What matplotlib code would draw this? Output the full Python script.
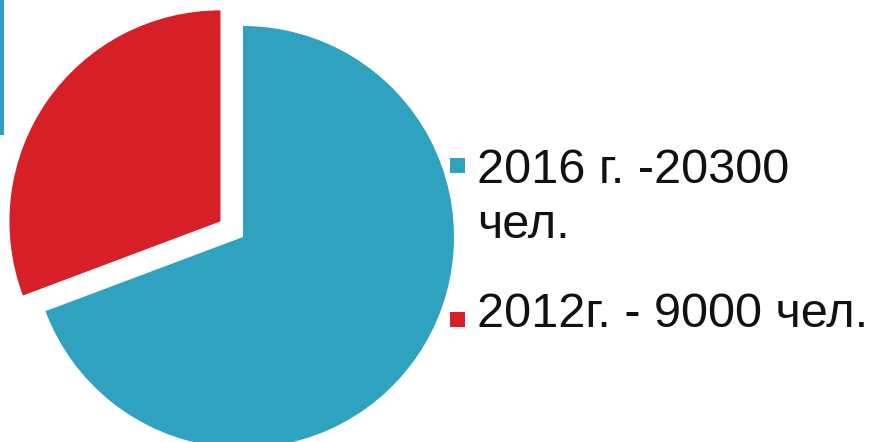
import matplotlib
matplotlib.use("Agg")
import matplotlib.pyplot as plt
from matplotlib.patches import Rectangle

labels = ["2016 г. -20300\nчел.", "2012г. - 9000 чел."]
values = [20300, 9000]
colors = ["#2EA2BF", "#D71F28"]
explode = [0.0, 0.13]

W, H = 871, 442
fig = plt.figure(figsize=(W / 100, H / 100), dpi=100)
ax = fig.add_axes([0, 0, 1, 1])
cx, cy, R = 243, 237, 211
ax.pie(values, colors=colors, explode=explode, startangle=90, counterclock=False,
       radius=1.0, center=(0, 0), wedgeprops=dict(linewidth=0))
ax.set_xlim(-cx / R, (W - cx) / R)
ax.set_ylim(-(H - cy) / R, cy / R)
ax.set_aspect("equal")
ax.axis("off")

# thin vertical bar at the left edge
fig.add_artist(Rectangle((0, 1 - 135 / H), 4 / W, 135 / H, transform=fig.transFigure,
                         color="#2E9FC0", lw=0))

# legend drawn manually
sq = 15
entries = [(158, 183), (312, 327)]
line_gap = 55
for (sq_top, base), lab, col in zip(entries, labels, colors):
    fig.add_artist(Rectangle((450 / W, 1 - (sq_top + sq) / H), sq / W, sq / H,
                             transform=fig.transFigure, color=col, lw=0))
    for i, line in enumerate(lab.split("\n")):
        fig.text(477 / W, 1 - (base + i * line_gap) / H, line, fontsize=35,
                 family="Liberation Sans", color="#111111", va="baseline", ha="left")

fig.savefig("out.png", dpi=100)
